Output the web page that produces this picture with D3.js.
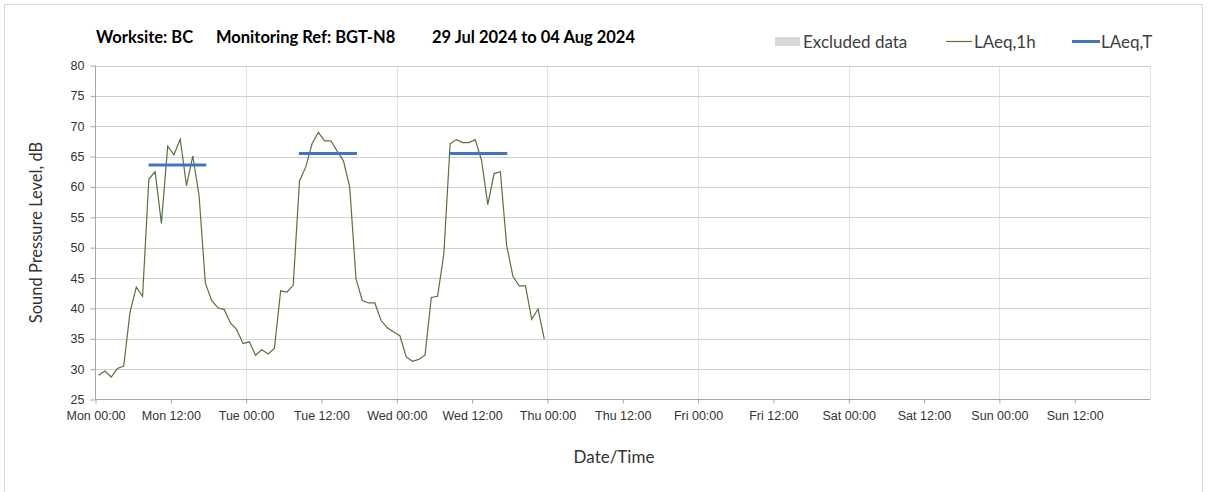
<!DOCTYPE html>
<html>
<head>
<meta charset="utf-8">
<script src="https://cdn.jsdelivr.net/npm/d3@7"></script>
<style>
  body { margin: 0; background: #fff; }
  svg { display: block; font-family: Lato, "Open Sans", sans-serif; }
  .grid-h line { stroke: #cfcfcf; }
  .grid-v line { stroke: #e3e3e3; }
  .axis path, .axis line { stroke: #a6a6a6; }
  .axis text { fill: #333; font-size: 12.5px; }
</style>
</head>
<body>
<div id="container"></div>
<script>
// hourly LAeq,1h values from Mon 29 Jul 00:00, one per hour
const laeq1h = [
  29.0, 29.7, 28.7, 30.1, 30.5, 39.4, 43.5, 42.0, 61.3, 62.5, 54.0, 66.7,
  65.3, 67.9, 60.2, 65.1, 58.6, 44.2, 41.3, 40.1, 39.8, 37.6, 36.5, 34.2,
  34.5, 32.3, 33.2, 32.5, 33.4, 42.9, 42.7, 43.8, 61.0, 63.3, 67.1, 69.0,
  67.6, 67.6, 65.9, 64.3, 60.0, 44.9, 41.3, 40.9, 40.9, 38.0, 36.8, 36.1,
  35.5, 32.0, 31.3, 31.6, 32.3, 41.8, 42.0, 49.0, 67.1, 67.8, 67.3, 67.3,
  67.8, 64.4, 57.1, 62.2, 62.5, 50.4, 45.3, 43.7, 43.7, 38.2, 39.9, 35.0
];

// LAeq,T daytime periods (hours from Mon 00:00) and levels
const ltStart = [8.45, 32.4, 56.4];
const ltEnd = [17.65, 41.65, 65.6];
const ltValue = [63.6, 65.5, 65.5];

const yTicks = [25, 30, 35, 40, 45, 50, 55, 60, 65, 70, 75, 80];
const xTickLabels = ["Mon 00:00", "Mon 12:00", "Tue 00:00", "Tue 12:00", "Wed 00:00", "Wed 12:00",
  "Thu 00:00", "Thu 12:00", "Fri 00:00", "Fri 12:00", "Sat 00:00", "Sat 12:00", "Sun 00:00", "Sun 12:00"];

const titleParts = ["Worksite: BC", "Monitoring Ref: BGT-N8", "29 Jul 2024 to 04 Aug 2024"];

const start = new Date(2024, 6, 29, 0, 0);
const hourMs = 3600 * 1000;
const at = (hr) => new Date(start.getTime() + hr * hourMs);

const w = 1208, h = 492;
const plotL = 95.5, plotR = 1150, plotT = 65.5, plotB = 399.5;

const svg = d3.select("#container").append("svg")
  .attr("width", w).attr("height", h);

// outer frame
svg.append("rect")
  .attr("x", 4.5).attr("y", 4.5)
  .attr("width", 1198).attr("height", 500)
  .attr("fill", "none").attr("stroke", "#d9d9d9");

const x = d3.scaleTime().domain([start, at(168)]).range([plotL, plotR]);
const y = d3.scaleLinear().domain([25, 80]).range([plotB, plotT]);

// gridlines
svg.append("g").attr("class", "grid-v")
  .selectAll("line").data(d3.range(1, 8).map(d => at(d * 24)))
  .enter().append("line")
  .attr("x1", d => Math.round(x(d)) + 0.5).attr("x2", d => Math.round(x(d)) + 0.5)
  .attr("y1", plotT).attr("y2", plotB);

svg.append("g").attr("class", "grid-h")
  .selectAll("line").data(yTicks.slice(1))
  .enter().append("line")
  .attr("x1", plotL).attr("x2", plotR)
  .attr("y1", d => Math.round(y(d)) + 0.5).attr("y2", d => Math.round(y(d)) + 0.5);

// axes
const xTickVals = xTickLabels.map((d, i) => at(i * 12));
const xAxis = d3.axisBottom(x)
  .tickValues(xTickVals)
  .tickSize(4)
  .tickFormat((d, i) => xTickLabels[i]);
const yAxis = d3.axisLeft(y).tickValues(yTicks).tickSize(5).tickFormat(d3.format("d"));

const gx = svg.append("g").attr("class", "axis")
  .attr("transform", "translate(0," + plotB + ")")
  .call(xAxis);
gx.select(".domain").remove();
gx.append("line").attr("x1", plotL).attr("x2", plotR).attr("stroke", "#a6a6a6");
gx.selectAll("text").attr("dy", "1.1em");

const gy = svg.append("g").attr("class", "axis")
  .attr("transform", "translate(" + plotL + ",0)")
  .call(yAxis);
gy.select(".domain").remove();
gy.append("line").attr("y1", plotT).attr("y2", plotB).attr("stroke", "#a6a6a6");
gy.selectAll("text").attr("x", -11);

// LAeq,1h line
const line = d3.line()
  .x((d, i) => x(at(i + 0.5)))
  .y(d => y(d));

svg.append("path")
  .datum(laeq1h)
  .attr("d", line)
  .attr("fill", "none")
  .attr("stroke", "#56733f")
  .attr("stroke-width", 1.2);

// LAeq,T segments
svg.append("g").selectAll("line")
  .data(ltValue)
  .enter().append("line")
  .attr("x1", (d, i) => x(at(ltStart[i])))
  .attr("x2", (d, i) => x(at(ltEnd[i])))
  .attr("y1", d => y(d)).attr("y2", d => y(d))
  .attr("stroke", "#4472c4")
  .attr("stroke-width", 3);

// title
const titleX = [96, 216, 432];
svg.append("g").selectAll("text")
  .data(titleParts)
  .enter().append("text")
  .attr("x", (d, i) => titleX[i]).attr("y", 43)
  .attr("font-size", 16.5).attr("font-weight", "bold")
  .attr("fill", "#000")
  .text(d => d);

// legend
const lg = svg.append("g").attr("font-size", 17).attr("fill", "#404040");
lg.append("rect").attr("x", 775).attr("y", 37).attr("width", 25).attr("height", 9).attr("fill", "#d9d9d9");
lg.append("text").attr("x", 803).attr("y", 47.5).text("Excluded data");
lg.append("line").attr("x1", 946).attr("x2", 972).attr("y1", 41.5).attr("y2", 41.5)
  .attr("stroke", "#56733f").attr("stroke-width", 1.2);
lg.append("text").attr("x", 974).attr("y", 47.5).text("LAeq,1h");
lg.append("line").attr("x1", 1072).attr("x2", 1100).attr("y1", 41.5).attr("y2", 41.5)
  .attr("stroke", "#4472c4").attr("stroke-width", 3);
lg.append("text").attr("x", 1101).attr("y", 47.5).text("LAeq,T");

// axis titles
svg.append("text")
  .attr("transform", "translate(42," + ((plotT + plotB) / 2) + ") rotate(-90)")
  .attr("text-anchor", "middle")
  .attr("font-size", 16.5).attr("fill", "#333")
  .text("Sound Pressure Level, dB");

svg.append("text")
  .attr("x", 614).attr("y", 463)
  .attr("text-anchor", "middle")
  .attr("font-size", 17).attr("fill", "#333")
  .text("Date/Time");
</script>
</body>
</html>
